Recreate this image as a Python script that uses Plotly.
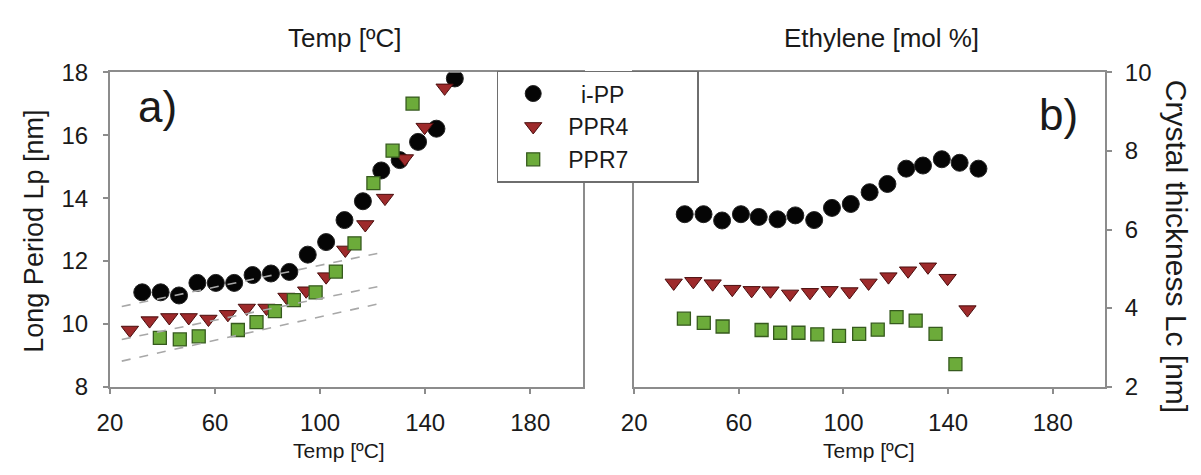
import plotly.graph_objects as go

# ---------------- data ----------------
# Left panel (long period Lp)
ipp_temp_lp = [32.3, 39.3, 46.3, 53.3, 60.3, 67.3, 74.3, 81.3, 88.3, 95.3, 102.3, 109.3, 116.3, 123.3, 130.3, 137.3, 144.3, 151.3]
ipp_lp = [11.0, 11.0, 10.9, 11.3, 11.3, 11.3, 11.55, 11.6, 11.65, 12.2, 12.6, 13.3, 13.9, 14.88, 15.21, 15.79, 16.21, 17.81]

ppr4_temp_lp = [27.6, 35.1, 42.6, 50.0, 57.5, 64.9, 72.1, 79.6, 87.2, 94.7, 102.3, 109.6, 117.2, 124.7, 132.3, 139.8, 147.4]
ppr4_lp = [9.8, 10.1, 10.2, 10.2, 10.15, 10.3, 10.5, 10.5, 10.85, 11.05, 11.5, 12.35, 13.16, 14.0, 15.26, 16.26, 17.51]

ppr7_temp_lp = [39.0, 46.6, 53.8, 68.7, 75.8, 82.8, 90.0, 98.3, 106.0, 113.1, 120.3, 127.6, 135.2]
ppr7_lp = [9.55, 9.5, 9.6, 9.8, 10.05, 10.4, 10.75, 11.0, 11.66, 12.56, 14.48, 15.51, 17.01]

# Right panel (crystal thickness Lc)
ipp_temp_lc = [39.3, 46.5, 53.6, 60.8, 67.6, 74.8, 81.6, 88.8, 95.6, 102.8, 110.0, 116.8, 124.0, 130.4, 137.6, 144.4, 151.6]
ipp_lc = [6.39, 6.39, 6.23, 6.39, 6.32, 6.26, 6.36, 6.24, 6.55, 6.65, 6.95, 7.16, 7.55, 7.63, 7.79, 7.70, 7.55]

ppr4_temp_lc = [35.1, 42.6, 50.0, 57.5, 64.9, 72.1, 79.6, 87.2, 94.7, 102.3, 109.6, 117.2, 124.7, 132.3, 139.8, 147.4]
ppr4_lc = [4.64, 4.68, 4.62, 4.48, 4.45, 4.44, 4.36, 4.40, 4.45, 4.42, 4.64, 4.80, 4.95, 5.05, 4.76, 3.96]

ppr7_temp_lc = [39.0, 46.6, 53.8, 68.7, 75.8, 82.8, 90.0, 98.3, 106.0, 113.1, 120.3, 127.6, 135.2, 142.8]
ppr7_lc = [3.73, 3.62, 3.53, 3.44, 3.37, 3.37, 3.33, 3.29, 3.34, 3.45, 3.77, 3.68, 3.34, 2.57]

# dashed guide lines (left panel)
fit_temp = [24.5, 123.0]
fit_ipp = [10.55, 12.26]
fit_ppr4 = [9.5, 11.2]
fit_ppr7 = [8.81, 10.65]

x_ticks = [20, 60, 100, 140, 180]
lp_ticks = [8, 10, 12, 14, 16, 18]
lc_ticks = [2, 4, 6, 8, 10]

# ---------------- styles ----------------
FONT = "Liberation Sans, Arial, sans-serif"
AXC = "#8c8c8c"
TXT = "#1a1a1a"
W, H = 1201, 475
NB = "\u00a0"

ipp_m = dict(symbol="circle", size=17, color="#050505", line=dict(color="#222", width=1))
ppr4_m = dict(symbol="triangle-down", size=15, color="#9e2a2b", line=dict(color="#4a0d0d", width=1))
ppr7_m = dict(symbol="square", size=13, color="#6cab3a", line=dict(color="#365a1e", width=1.3))

fig = go.Figure()

# left panel
fig.add_trace(go.Scatter(x=ipp_temp_lp, y=ipp_lp, mode="markers", marker=ipp_m,
                         name=NB * 2 + "i-PP" + NB * 10, xaxis="x", yaxis="y", legendrank=1))
fig.add_trace(go.Scatter(x=ppr4_temp_lp, y=ppr4_lp, mode="markers", marker=ppr4_m,
                         name="PPR4" + NB * 10, xaxis="x", yaxis="y", legendrank=2))
fig.add_trace(go.Scatter(x=ppr7_temp_lp, y=ppr7_lp, mode="markers", marker=ppr7_m,
                         name="PPR7" + NB * 10, xaxis="x", yaxis="y", legendrank=3))
for fy in (fit_ipp, fit_ppr4, fit_ppr7):
    fig.add_trace(go.Scatter(x=fit_temp, y=fy, mode="lines", showlegend=False,
                             line=dict(color="#a8a8a8", width=1.6, dash="dash"),
                             xaxis="x", yaxis="y", hoverinfo="skip"))

# right panel
fig.add_trace(go.Scatter(x=ipp_temp_lc, y=ipp_lc, mode="markers", marker=ipp_m,
                         showlegend=False, xaxis="x2", yaxis="y2"))
fig.add_trace(go.Scatter(x=ppr4_temp_lc, y=ppr4_lc, mode="markers", marker=ppr4_m,
                         showlegend=False, xaxis="x2", yaxis="y2"))
fig.add_trace(go.Scatter(x=ppr7_temp_lc, y=ppr7_lc, mode="markers", marker=ppr7_m,
                         showlegend=False, xaxis="x2", yaxis="y2"))

ydom = [(H - 395) / H, (H - 62) / H]

def xax(dom, anchor):
    return dict(domain=dom, anchor=anchor, range=[20, 200], tickvals=x_ticks,
                showline=True, linecolor=AXC, linewidth=2, mirror=True,
                ticks="outside", ticklen=5, tickcolor=AXC, tickwidth=1.5,
                ticklabelstandoff=9,
                showgrid=False, zeroline=False,
                tickfont=dict(family=FONT, size=24, color=TXT))

fig.update_layout(
    width=W, height=H,
    margin=dict(l=0, r=0, t=0, b=0),
    paper_bgcolor="white", plot_bgcolor="white",
    font=dict(family=FONT, color=TXT),
    xaxis=xax([98 / W, 576 / W], "y"),
    xaxis2=xax([628 / W, 1104 / W], "y2"),
    yaxis=dict(domain=ydom, anchor="x", range=[8, 18], tickvals=lp_ticks,
               showline=True, linecolor=AXC, linewidth=2, mirror=True,
               ticks="outside", ticklen=5, tickcolor=AXC, tickwidth=1.5,
               ticklabelstandoff=10,
               showgrid=False, zeroline=False,
               tickfont=dict(family=FONT, size=24, color=TXT)),
    yaxis2=dict(domain=ydom, anchor="x2", side="right", range=[2, 10], tickvals=lc_ticks,
                showline=True, linecolor=AXC, linewidth=2, mirror=True,
                ticks="outside", ticklen=5, tickcolor=AXC, tickwidth=1.5,
                ticklabelstandoff=8,
                showgrid=False, zeroline=False,
                tickfont=dict(family=FONT, size=24, color=TXT)),
    showlegend=True,
    legend=dict(x=489 / W, xanchor="left", y=(H - 60) / H, yanchor="top",
                bgcolor="white", bordercolor="#6e6e6e", borderwidth=1.5,
                font=dict(family=FONT, size=23, color=TXT),
                itemwidth=60, tracegroupgap=0, traceorder="normal"),
)

def ann(text, x, y, size, angle=0):
    fig.add_annotation(text=text, x=x / W, y=1 - y / H, xref="paper", yref="paper",
                       showarrow=False, xanchor="center", yanchor="middle",
                       textangle=angle, font=dict(family=FONT, size=size, color=TXT))

ann("Temp [ºC]", 336, 25, 26)
ann("Ethylene [mol %]", 878, 25, 26)
ann("Temp [ºC]", 330, 463, 21)
ann("Temp [ºC]", 865, 463, 21)
ann("Long Period Lp [nm]", 21, 230, 27, -90)
ann("Crystal thickness Lc [nm]", 1177, 246, 30, 90)
ann("a)", 146, 98, 44)
ann("b)", 1057, 107, 44)

fig.write_html("out.html")
